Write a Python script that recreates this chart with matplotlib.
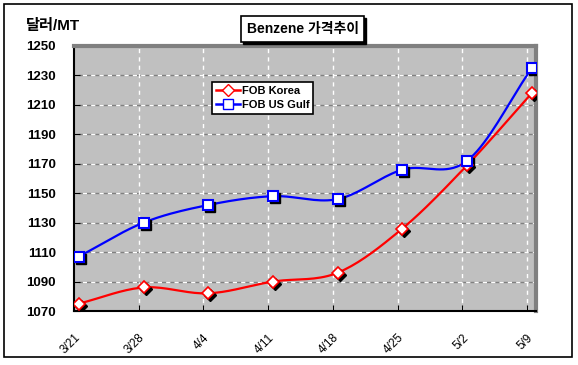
import matplotlib
matplotlib.use('Agg')
import matplotlib.pyplot as plt
import matplotlib.transforms as mtransforms
from matplotlib.patches import Rectangle
from matplotlib.lines import Line2D
import numpy as np

plt.rcParams['font.family'] = ['Liberation Sans', 'Noto Sans CJK KR']

dates = ['3/21', '3/28', '4/4', '4/11', '4/18', '4/25', '5/2', '5/9']
fob_korea = [1075, 1086, 1082, 1090, 1096, 1126, 1169, 1218]
fob_usgulf = [1107, 1130, 1142, 1148, 1146, 1166, 1172, 1235]
y_ticks = list(range(1070, 1251, 20))


def smooth(x, y, n=20):
    # catmull-rom through the points, roughly what excel does for "smoothed line"
    x = np.asarray(x, float)
    y = np.asarray(y, float)
    px = np.concatenate([[2 * x[0] - x[1]], x, [2 * x[-1] - x[-2]]])
    py = np.concatenate([[2 * y[0] - y[1]], y, [2 * y[-1] - y[-2]]])
    xs, ys = [], []
    t = np.linspace(0, 1, n)
    for i in range(1, len(px) - 2):
        for p, out in ((px, xs), (py, ys)):
            p0, p1, p2, p3 = p[i - 1], p[i], p[i + 1], p[i + 2]
            out.extend(0.5 * (2 * p1 + (-p0 + p2) * t
                              + (2 * p0 - 5 * p1 + 4 * p2 - p3) * t ** 2
                              + (-p0 + 3 * p1 - 3 * p2 + p3) * t ** 3))
    return xs, ys


fig = plt.figure(figsize=(5.78, 3.65), dpi=100)
fig.patch.set_facecolor('white')
fig.patches.append(Rectangle((4 / 578, 1 - 357 / 365), 568 / 578, 353 / 365,
                             transform=fig.transFigure, fill=False,
                             edgecolor='black', linewidth=1.2))

ax = fig.add_axes([74 / 578, 1 - 311 / 365, 462 / 578, 265 / 365])
ax.set_facecolor('#c0c0c0')

xpos = np.arange(len(dates))
xm = xpos + 0.075

# grid
for yv in y_ticks[1:-1]:
    ax.axhline(yv, color='#808080', linewidth=1, zorder=1)
    ax.axhline(yv, color='white', linewidth=1, linestyle=(0, (3, 3)), zorder=1)
for xv in xpos[1:]:
    ax.axvline(xv, color='white', linewidth=1, linestyle=(0, (3, 3)), zorder=1)

sx, sy = smooth(xm, fob_korea)
ax.plot(sx, sy, color='red', linewidth=1.6, zorder=3)
sx, sy = smooth(xm, fob_usgulf)
ax.plot(sx, sy, color='blue', linewidth=1.6, zorder=3)

shadow = mtransforms.offset_copy(ax.transData, fig=fig, x=2, y=-2, units='dots')
ax.plot(xm, fob_korea, linestyle='none', marker='D', markersize=6.5,
        color='black', transform=shadow, zorder=4)
ax.plot(xm, fob_usgulf, linestyle='none', marker='s', markersize=7,
        color='black', transform=shadow, zorder=4)
ax.plot(xm, fob_korea, linestyle='none', marker='D', markersize=6.5,
        markerfacecolor='white', markeredgecolor='red', markeredgewidth=1.2, zorder=5)
ax.plot(xm, fob_usgulf, linestyle='none', marker='s', markersize=7,
        markerfacecolor='white', markeredgecolor='blue', markeredgewidth=1.5, zorder=5)

ax.set_xlim(0, 7.14)
ax.set_ylim(1070, 1250)
ax.set_yticks(y_ticks)
ax.set_yticklabels([str(v) for v in y_ticks], fontsize=9.5, fontweight='bold')
ax.set_xticks(xpos)
ax.set_xticklabels(dates, fontsize=8.5, rotation=45, ha='right', rotation_mode='anchor')
ax.tick_params(axis='y', length=4, direction='in', pad=13)
ax.tick_params(axis='x', length=4, direction='in', pad=15)

for s in ('left', 'bottom'):
    ax.spines[s].set_color('black')
    ax.spines[s].set_linewidth(1.5)
for s in ('top', 'right'):
    ax.spines[s].set_color('#808080')
    ax.spines[s].set_linewidth(3)

handles = [Line2D([0], [0], color='red', linewidth=1.8, marker='D', markersize=6,
                  markerfacecolor='white', markeredgecolor='red'),
           Line2D([0], [0], color='blue', linewidth=1.8, marker='s', markersize=7,
                  markerfacecolor='white', markeredgecolor='blue')]
leg = ax.legend(handles, ['FOB Korea', 'FOB US Gulf'], loc='upper left',
                bbox_to_anchor=(0.299, 0.864), borderaxespad=0, fancybox=False,
                framealpha=1, edgecolor='black', handlelength=2.2, handletextpad=0.1,
                borderpad=0.35, labelspacing=0.35,
                prop={'size': 8, 'weight': 'bold'})
leg.get_frame().set_linewidth(1.2)
leg.set_zorder(10)

fig.text(0.045, 1 - 26 / 365, '달러/MT', fontsize=11, fontweight='bold', va='center')

title = fig.text(0.524, 1 - 29 / 365, 'Benzene 가격추이', fontsize=10, fontweight='bold',
                 ha='center', va='center', zorder=5,
                 bbox=dict(boxstyle='square,pad=0.4', facecolor='white', edgecolor='black',
                           linewidth=1.2))

# drop shadow behind the title box
fig.canvas.draw()
bb = title.get_bbox_patch().get_window_extent().transformed(fig.transFigure.inverted())
fig.patches.append(Rectangle((bb.x0 + 2 / 578, bb.y0 - 2 / 365), bb.width, bb.height,
                             transform=fig.transFigure, facecolor='black',
                             edgecolor='black', zorder=1))

fig.savefig('out.png', dpi=100)
